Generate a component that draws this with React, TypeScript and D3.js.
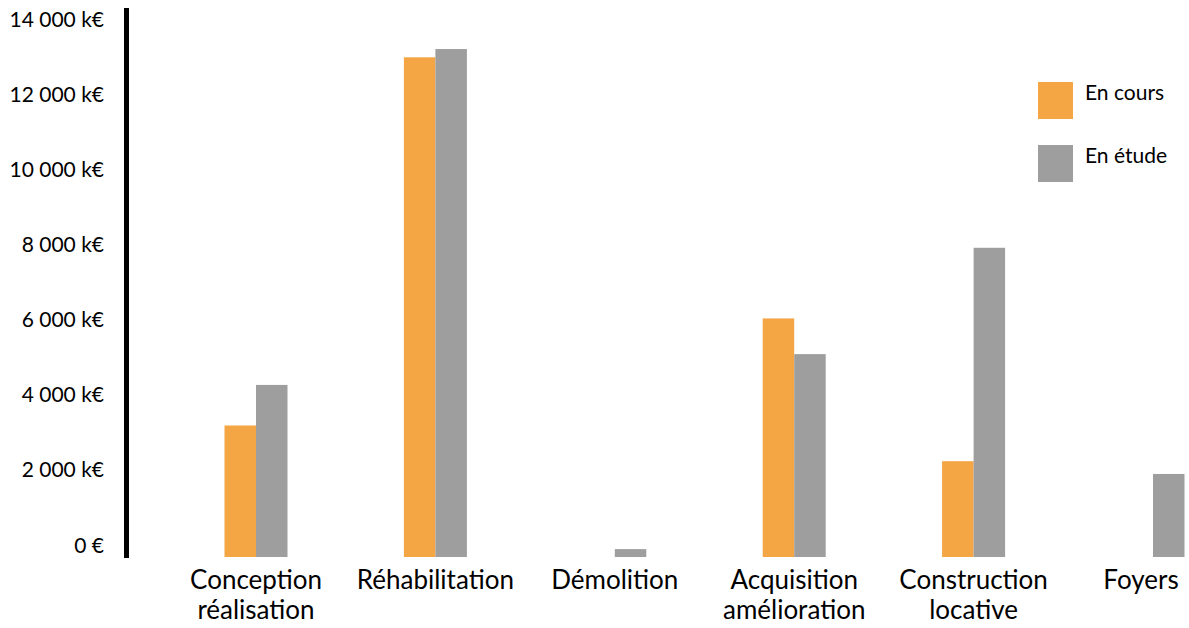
import React, { useRef, useEffect } from 'react';
import * as d3 from 'd3';

const categories = [
  ['Conception', 'réalisation'],
  ['Réhabilitation'],
  ['Démolition'],
  ['Acquisition', 'amélioration'],
  ['Construction', 'locative'],
  ['Foyers'],
];
const series = ['En cours', 'En étude'];
const enCours = [3500, 13300, 0, 6350, 2550, 0];
const enEtude = [4580, 13520, 210, 5400, 8230, 2210];
const tickValues = [0, 2000, 4000, 6000, 8000, 10000, 12000, 14000];
const tickLabels = ['0 €', '2 000 k€', '4 000 k€', '6 000 k€', '8 000 k€', '10 000 k€', '12 000 k€', '14 000 k€'];
const colors = ['#F4A644', '#9E9E9E'];

const width = 1189;
const height = 628;

export default function App() {
  const ref = useRef<SVGSVGElement>(null);

  useEffect(() => {
    const svg = d3.select(ref.current);
    svg.selectAll('*').remove();
    const font = "Lato, 'Open Sans', sans-serif";

    const keys = categories.map(c => c.join(' '));
    const x = d3.scalePoint<string>().domain(keys).range([256, 1153]);
    const xs = d3.scaleBand<string>().domain(series).range([-31.5, 31.5]);
    const y = d3.scaleLinear().domain([0, 14000]).range([557, 31]);

    // axis line
    svg.append('line')
      .attr('x1', 126.5).attr('x2', 126.5)
      .attr('y1', y(0) + 1).attr('y2', y(14000) - 23)
      .attr('stroke', '#000').attr('stroke-width', 5);

    // tick labels
    svg.append('g')
      .selectAll('text')
      .data(tickValues)
      .enter()
      .append('text')
      .attr('x', 104)
      .attr('y', d => y(d) - 13)
      .attr('text-anchor', 'end')
      .attr('dominant-baseline', 'central')
      .attr('font-family', font)
      .attr('font-size', 21)
      .attr('fill', '#000')
      .text((d, i) => tickLabels[i]);

    // bars
    const rows = keys.map((k, i) => ({ key: k, values: [enCours[i], enEtude[i]] }));
    const groups = svg.append('g')
      .selectAll('g')
      .data(rows)
      .enter()
      .append('g')
      .attr('transform', d => `translate(${x(d.key)},0)`);

    groups.selectAll('rect')
      .data(d => d.values.map((v, j) => ({ s: series[j], v, j })).filter(e => e.v > 0))
      .enter()
      .append('rect')
      .attr('x', d => xs(d.s)!)
      .attr('width', xs.bandwidth())
      .attr('y', d => y(d.v))
      .attr('height', d => y(0) - y(d.v))
      .attr('fill', d => colors[d.j]);

    // category labels
    const labels = svg.append('g')
      .selectAll('text')
      .data(categories)
      .enter()
      .append('text')
      .attr('x', (d, i) => Math.min(x(keys[i])!, width - 48))
      .attr('y', 589)
      .attr('text-anchor', 'middle')
      .attr('font-family', font)
      .attr('font-size', 26)
      .attr('fill', '#000');
    labels.selectAll('tspan')
      .data(d => d)
      .enter()
      .append('tspan')
      .attr('x', function () { return (this.parentNode as SVGTextElement).getAttribute('x'); })
      .attr('dy', (d, i) => (i === 0 ? 0 : 30))
      .text(d => d);

    // legend
    const legend = svg.append('g')
      .selectAll('g')
      .data(series)
      .enter()
      .append('g')
      .attr('transform', (d, i) => `translate(1038,${82 + i * 63})`);
    legend.append('rect')
      .attr('width', 35).attr('height', 37)
      .attr('fill', (d, i) => colors[i]);
    legend.append('text')
      .attr('x', 47).attr('y', 18)
      .attr('font-family', font)
      .attr('font-size', 21)
      .attr('fill', '#000')
      .text(d => d);
  }, []);

  return (
    <svg
      ref={ref}
      width={width}
      height={height}
      style={{ position: 'absolute', left: 0, top: 0, background: '#fff' }}
    />
  );
}
